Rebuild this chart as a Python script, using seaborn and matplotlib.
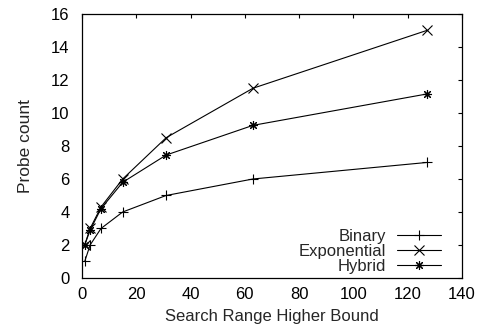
import matplotlib
matplotlib.use("Agg")
import matplotlib.pyplot as plt
import seaborn as sns
import pandas as pd

# Probe counts for each search strategy against the upper bound of the range
upper_bound = [1, 3, 7, 15, 31, 63, 127]
binary = [1, 2, 3, 4, 5, 6, 7]
exponential = [2, 3, 4.3, 6, 8.5, 11.5, 15]
hybrid = [2, 2.9, 4.2, 5.8, 7.45, 9.25, 11.15]

series_names = ["Binary", "Exponential", "Hybrid"]
x_ticks = [0, 20, 40, 60, 80, 100, 120, 140]
y_ticks = [0, 2, 4, 6, 8, 10, 12, 14, 16]

df = pd.DataFrame({
    "bound": upper_bound * 3,
    "probes": binary + exponential + hybrid,
    "method": [n for n in series_names for _ in upper_bound],
})

sns.set_style("white")
plt.rcParams["font.family"] = ["Liberation Sans", "DejaVu Sans"]
plt.rcParams["font.size"] = 12

fig = plt.figure(figsize=(4.8, 3.32), dpi=100)
ax = fig.add_axes([0.1708, 0.1627, 0.7917, 0.7952])

markers = {"Binary": "+", "Exponential": "x", "Hybrid": (8, 2, 0)}
for name in series_names:
    sub = df[df["method"] == name]
    sns.lineplot(data=sub, x="bound", y="probes", ax=ax, color="black",
                 linewidth=0.8, marker=markers[name], markersize=6.5,
                 markeredgewidth=0.8, markeredgecolor="black",
                 label=name, legend=False)

ax.set_xlim(0, 140)
ax.set_ylim(0, 16)
ax.set_xticks(x_ticks)
ax.set_yticks(y_ticks)
ax.tick_params(direction="in", length=3, width=0.8, top=True, right=True,
               labelsize=12, colors="black")
ax.tick_params(axis="x", pad=6.5)
ax.tick_params(axis="y", pad=9)
for s in ax.spines.values():
    s.set_visible(True)
    s.set_color("black")
    s.set_linewidth(0.9)

ax.set_xlabel("Search Range Higher Bound", fontsize=12, labelpad=5)
ax.set_ylabel("Probe count", fontsize=12.5, labelpad=13)

leg = ax.legend(loc="lower right", bbox_to_anchor=(0.945, 0.015),
                frameon=False, markerfirst=False, handlelength=2.63,
                handletextpad=0.66, labelspacing=0.0, borderpad=0,
                borderaxespad=0, fontsize=12)

fig.savefig("out.png", dpi=100)
